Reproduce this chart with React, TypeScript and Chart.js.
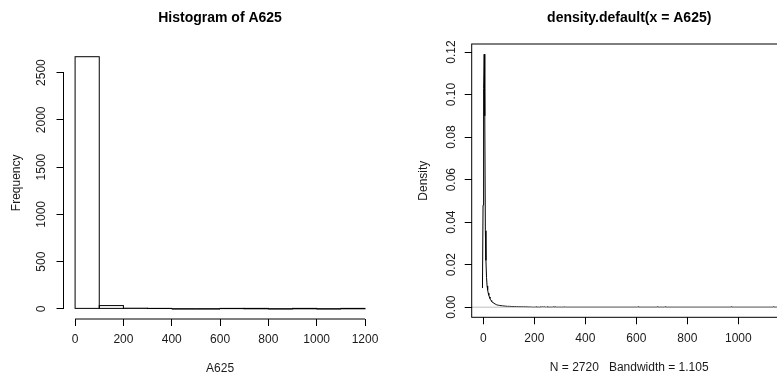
import { useEffect, useRef } from "react";
import { Chart, registerables } from "chart.js";

Chart.register(...registerables);

const FONT = "'Liberation Sans', Arial, Helvetica, sans-serif";
const TEXT = "#1a1a1a";
const LINE = "#000000";

// ---------- Histogram of A625 ----------
const histTitle = "Histogram of A625";
const histXLabel = "A625";
const histYLabel = "Frequency";
const histBinStarts = [0, 100, 200, 300, 400, 500, 600, 700, 800, 900, 1000, 1100];
const histBinEnds = [100, 200, 300, 400, 500, 600, 700, 800, 900, 1000, 1100, 1200];
const histCounts = [2668, 35, 7, 4, 0, 0, 3, 1, 0, 1, 0, 1];
const histXTicks = [0, 200, 400, 600, 800, 1000, 1200];
const histXTickLabels = ["0", "200", "400", "600", "800", "1000", "1200"];
const histYTicks = [0, 500, 1000, 1500, 2000, 2500];
const histYTickLabels = ["0", "500", "1000", "1500", "2000", "2500"];
const histXRange = [-48, 1248];
const histYRange = [-107, 2775];

// ---------- density.default(x = A625) ----------
const densTitle = "density.default(x = A625)";
const densXLabel = "N = 2720   Bandwidth = 1.105";
const densYLabel = "Density";
const densityX = [
  -3.3, -1.0, 1.2, 3.5, 5.8, 8.0, 10.3, 12.6, 14.8, 17.1, 19.4, 21.6, 23.9, 26.2, 28.4,
  30.7, 32.9, 35.2, 37.5, 39.7, 42.0, 46.5, 51.1, 55.6, 60.1, 64.6, 69.2, 76.0, 85.0,
  94.1, 103.2, 112.2, 121.3, 130.3, 139.4, 148.4, 157.5, 166.5, 175.6, 184.6, 193.7,
  205, 207, 209, 223, 225, 228, 232, 236, 239, 242, 248, 250, 253, 273, 275, 277,
  282, 284, 286, 318, 320, 322, 605, 607, 609, 680, 682, 684, 711, 713, 715,
  970, 972, 974, 1135, 1137, 1139, 1156,
];
const densityY = [
  0.009, 0.048, 0.103, 0.119, 0.09, 0.036, 0.022, 0.014, 0.01, 0.008, 0.0066, 0.0056,
  0.0048, 0.0041, 0.0035, 0.0031, 0.0027, 0.0024, 0.0022, 0.002, 0.0018, 0.0015,
  0.0012, 0.001, 0.0009, 0.0008, 0.0007, 0.0006, 0.0005, 0.0004, 0.0004, 0.0003,
  0.0003, 0.0003, 0.0002, 0.0002, 0.0002, 0.0002, 0.0001, 0.0001, 0,
  0, 0.00025, 0, 0, 0.00025, 0.0001, 0.00025, 0.0001, 0.0003, 0, 0, 0.00025, 0,
  0, 0.00025, 0, 0, 0.00025, 0, 0, 0.00025, 0, 0, 0.00025, 0, 0, 0.00025, 0,
  0, 0.00025, 0, 0, 0.00025, 0, 0, 0.00025, 0, 0,
];
const densXTicks = [0, 200, 400, 600, 800, 1000];
const densXTickLabels = ["0", "200", "400", "600", "800", "1000"];
const densYTicks = [0, 0.02, 0.04, 0.06, 0.08, 0.1, 0.12];
const densYTickLabels = ["0.00", "0.02", "0.04", "0.06", "0.08", "0.10", "0.12"];
const densXRange = [-45.5, 1190];
const densYRange = [-0.00476, 0.1238];
const zeroLineColor = "#bebebe";

// R-like axes / box / bar outlines drawn from the chart's own scales and elements
const rAxesPlugin = {
  id: "rAxes",
  afterDatasetsDraw(chart: any, _args: any, opts: any) {
    if (!opts.outlineBars) return;
    const { ctx } = chart;
    const meta = chart.getDatasetMeta(0);
    ctx.save();
    ctx.strokeStyle = LINE;
    ctx.lineWidth = 1;
    meta.data.forEach((el: any) => {
      const p = el.getProps(["x", "y", "base", "width"], true);
      ctx.strokeRect(p.x - p.width / 2, p.y, p.width, p.base - p.y);
    });
    ctx.restore();
  },
  afterDraw(chart: any, _args: any, opts: any) {
    const { ctx, chartArea } = chart;
    const xs = chart.scales.x;
    const ys = chart.scales.y;
    ctx.save();
    ctx.lineWidth = 1;
    if (opts.zeroLine) {
      const y0 = ys.getPixelForValue(0);
      ctx.strokeStyle = opts.zeroLine;
      ctx.beginPath();
      ctx.moveTo(chartArea.left, y0);
      ctx.lineTo(chartArea.right, y0);
      ctx.stroke();
    }
    ctx.strokeStyle = LINE;
    if (opts.box) {
      ctx.strokeRect(chartArea.left, chartArea.top, chartArea.right - chartArea.left, chartArea.bottom - chartArea.top);
    } else {
      const xt = xs.ticks;
      const yt = ys.ticks;
      ctx.beginPath();
      ctx.moveTo(xs.getPixelForValue(xt[0].value), chartArea.bottom);
      ctx.lineTo(xs.getPixelForValue(xt[xt.length - 1].value), chartArea.bottom);
      ctx.moveTo(chartArea.left, ys.getPixelForValue(yt[0].value));
      ctx.lineTo(chartArea.left, ys.getPixelForValue(yt[yt.length - 1].value));
      ctx.stroke();
    }
    ctx.restore();
  },
};

function makeScales(cfg: any) {
  return {
    x: {
      type: "linear",
      min: cfg.xRange[0],
      max: cfg.xRange[1],
      offset: false,
      afterBuildTicks: (s: any) => {
        s.ticks = cfg.xTicks.map((v: number) => ({ value: v }));
      },
      afterFit: (s: any) => {
        s.height = cfg.xHeight;
      },
      border: { display: false },
      grid: { display: true, offset: false, drawOnChartArea: false, drawTicks: true, tickLength: 7, color: LINE, lineWidth: 1 },
      ticks: {
        autoSkip: false,
        maxRotation: 0,
        minRotation: 0,
        padding: 6.8,
        color: TEXT,
        font: { family: FONT, size: 12 },
        callback: (_v: any, i: number) => cfg.xTickLabels[i],
      },
      title: {
        display: true,
        text: cfg.xLabel,
        color: TEXT,
        font: { family: FONT, size: 12 },
        padding: { top: 0, bottom: cfg.xTitlePad },
      },
    },
    y: {
      type: "linear",
      min: cfg.yRange[0],
      max: cfg.yRange[1],
      afterBuildTicks: (s: any) => {
        s.ticks = cfg.yTicks.map((v: number) => ({ value: v }));
      },
      afterFit: (s: any) => {
        s.width = cfg.yWidth;
      },
      border: { display: false },
      grid: { display: true, drawOnChartArea: false, drawTicks: true, tickLength: 7, color: LINE, lineWidth: 1 },
      ticks: {
        autoSkip: false,
        minRotation: 90,
        maxRotation: 90,
        crossAlign: "center",
        padding: cfg.yTickPad,
        color: TEXT,
        font: { family: FONT, size: 12 },
        callback: (_v: any, i: number) => cfg.yTickLabels[i],
      },
      title: {
        display: true,
        text: cfg.yLabel,
        color: TEXT,
        font: { family: FONT, size: 12 },
        padding: { top: cfg.yTitlePad, bottom: 0 },
      },
    },
  };
}

function makeTitle(text: string, bottomPad: number) {
  return {
    display: true,
    text,
    fullSize: false,
    color: "#000",
    font: { family: FONT, size: 14, weight: "bold" as const },
    padding: { top: 10.1, bottom: bottomPad },
  };
}

export default function App() {
  const leftRef = useRef<HTMLCanvasElement | null>(null);
  const rightRef = useRef<HTMLCanvasElement | null>(null);

  useEffect(() => {
    const hist = new Chart(leftRef.current as HTMLCanvasElement, {
      type: "bar",
      data: {
        datasets: [
          {
            data: histCounts.map((c, i) => ({ x: (histBinStarts[i] + histBinEnds[i]) / 2, y: c })),
            backgroundColor: "rgba(255,255,255,0)",
            borderWidth: 0,
            inflateAmount: 0,
            barPercentage: 1,
            categoryPercentage: 1,
          } as any,
        ],
      },
      options: {
        responsive: false,
        maintainAspectRatio: false,
        animation: false,
        devicePixelRatio: 1,
        events: [],
        layout: { padding: { left: 0, top: 0, right: 12.4, bottom: 0 } },
        scales: makeScales({
          xRange: histXRange,
          yRange: histYRange,
          xTicks: histXTicks,
          xTickLabels: histXTickLabels,
          yTicks: histYTicks,
          yTickLabels: histYTickLabels,
          xLabel: histXLabel,
          yLabel: histYLabel,
          xHeight: 56,
          yWidth: 63.5,
          xTitlePad: -1.2,
          yTitlePad: 9.5,
          yTickPad: 1.5,
        }) as any,
        plugins: {
          legend: { display: false },
          tooltip: { enabled: false },
          title: makeTitle(histTitle, 19.7),
          rAxes: { box: false, outlineBars: true },
        } as any,
      },
      plugins: [rAxesPlugin],
    });

    const dens = new Chart(rightRef.current as HTMLCanvasElement, {
      type: "line",
      data: {
        datasets: [
          {
            data: densityX.map((x, i) => ({ x, y: densityY[i] })),
            borderColor: LINE,
            borderWidth: 1,
            pointRadius: 0,
            tension: 0,
            fill: false,
          },
        ],
      },
      options: {
        responsive: false,
        maintainAspectRatio: false,
        animation: false,
        devicePixelRatio: 1,
        events: [],
        layout: { padding: { left: 0, top: 0, right: 22.2, bottom: 0 } },
        scales: makeScales({
          xRange: densXRange,
          yRange: densYRange,
          xTicks: densXTicks,
          xTickLabels: densXTickLabels,
          yTicks: densYTicks,
          yTickLabels: densYTickLabels,
          xLabel: densXLabel,
          yLabel: densYLabel,
          xHeight: 57.7,
          yWidth: 82.7,
          xTitlePad: 0.5,
          yTitlePad: 27,
          yTickPad: 1.3,
        }) as any,
        plugins: {
          legend: { display: false },
          tooltip: { enabled: false },
          title: makeTitle(densTitle, 17.1),
          rAxes: { box: true, zeroLine: zeroLineColor },
        } as any,
      },
      plugins: [rAxesPlugin],
    });

    return () => {
      hist.destroy();
      dens.destroy();
    };
  }, []);

  return (
    <div
      style={{
        position: "fixed",
        left: 0,
        top: 0,
        width: 777,
        height: 375,
        overflow: "hidden",
        background: "#ffffff",
      }}
    >
      <canvas
        ref={leftRef}
        width={389}
        height={375}
        style={{ position: "absolute", left: 0, top: 0, width: 389, height: 375 }}
      />
      <canvas
        ref={rightRef}
        width={420}
        height={375}
        style={{ position: "absolute", left: 389, top: 0, width: 420, height: 375 }}
      />
    </div>
  );
}
